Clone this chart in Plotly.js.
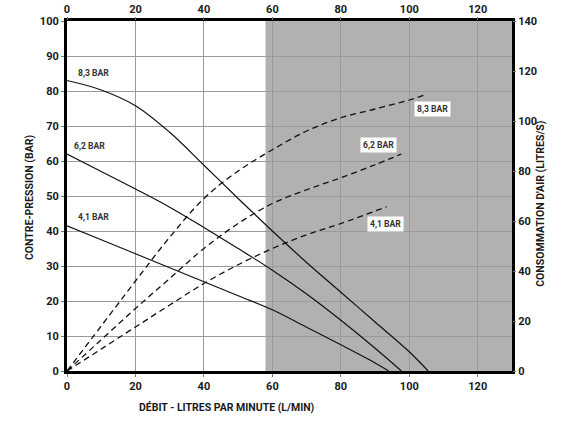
<!DOCTYPE html>
<html>
<head>
<meta charset="utf-8">
<script src="https://cdn.plot.ly/plotly-3.0.1.min.js"></script>
<style>html,body{margin:0;padding:0;background:#fff}#chart{width:564px;height:426px}</style>
</head>
<body>
<div id="chart"></div>
<script>
// Contre-pression (left axis, bar) vs débit (L/min)
const flow83 = [0, 10, 20, 30, 40, 50, 60, 70, 80, 90, 100, 105.5];
const press83 = [83, 80.3, 75.8, 68.2, 58.8, 49.3, 40, 31, 22.5, 14, 5.5, 0];
const flow62 = [0, 10, 20, 30, 40, 50, 60, 70, 80, 90, 97.7];
const press62 = [62, 57, 52, 46.8, 41, 35, 28.8, 22, 14.5, 6.5, 0];
const flow41 = [0, 10, 20, 30, 40, 50, 60, 70, 80, 90, 94];
const press41 = [41.5, 37.5, 33.5, 29.5, 25.5, 21.5, 17.5, 12.5, 7.5, 2.3, 0];

// Consommation d'air (right axis, litres/s) vs débit
const airFlow83 = [0, 10, 20, 30, 40, 50, 60, 70, 80, 90, 100, 104.7];
const air83 = [0, 18, 36, 53.5, 69, 80, 88.5, 96, 101.3, 104.8, 108.4, 110.5];
const airFlow62 = [0, 10, 20, 30, 40, 50, 60, 70, 80, 90, 97.7];
const air62 = [0, 12.5, 25, 37, 49, 59, 67, 72.5, 77.3, 82.5, 86.8];
const airFlow41 = [0, 10, 20, 30, 40, 50, 60, 70, 80, 93.4];
const air41 = [0, 8.8, 17.6, 26.4, 35, 42.5, 49, 54.5, 59, 65.7];

const seriesLabels = ['8,3 BAR', '6,2 BAR', '4,1 BAR'];
const xTicks = [0, 20, 40, 60, 80, 100, 120];
const yLeftTicks = [0, 10, 20, 30, 40, 50, 60, 70, 80, 90, 100];
const yRightTicks = [0, 20, 40, 60, 80, 100, 120, 140];
const shadeStart = 58;
const shadeEnd = 130;

const FONT = 'Roboto, "Open Sans", sans-serif';
const solid = {color: '#111', width: 1.2, shape: 'spline', smoothing: 1};
const dashed = {color: '#111', width: 1.3, dash: '6px,4px', shape: 'spline', smoothing: 1};

const traces = [
  {x: flow83, y: press83, mode: 'lines', line: solid, xaxis: 'x', yaxis: 'y', hoverinfo: 'skip'},
  {x: flow62, y: press62, mode: 'lines', line: solid, xaxis: 'x', yaxis: 'y', hoverinfo: 'skip'},
  {x: flow41, y: press41, mode: 'lines', line: solid, xaxis: 'x', yaxis: 'y', hoverinfo: 'skip'},
  {x: airFlow83, y: air83, mode: 'lines', line: dashed, xaxis: 'x', yaxis: 'y2', hoverinfo: 'skip'},
  {x: airFlow62, y: air62, mode: 'lines', line: dashed, xaxis: 'x', yaxis: 'y2', hoverinfo: 'skip'},
  {x: airFlow41, y: air41, mode: 'lines', line: dashed, xaxis: 'x', yaxis: 'y2', hoverinfo: 'skip'},
  {x: [0], y: [0], mode: 'markers', marker: {opacity: 0}, xaxis: 'x2', yaxis: 'y', hoverinfo: 'skip'}
];

const tickFont = {family: FONT, size: 11, color: '#1a1a1a', weight: 700};
const labelFont = {family: FONT, size: 8.6, color: '#333', weight: 700};
const titleFont = {family: FONT, size: 10.5, color: '#1a1a1a', weight: 700};

const layout = {
  width: 564, height: 426,
  margin: {l: 66.5, r: 52.3, t: 21, b: 55},
  paper_bgcolor: '#fff', plot_bgcolor: '#fff',
  showlegend: false,
  xaxis: {
    range: [0, 130], tickvals: xTicks, showgrid: true, gridcolor: '#979aa0', gridwidth: 1,
    zeroline: false, showline: true, linecolor: '#000', linewidth: 3, mirror: true,
    ticks: 'outside', ticklen: 3, tickcolor: '#777', tickfont: tickFont
  },
  xaxis2: {
    range: [0, 130], tickvals: xTicks, overlaying: 'x', side: 'top', anchor: 'y',
    showgrid: false, zeroline: false, showline: false,
    ticks: 'outside', ticklen: 3, tickcolor: '#777', tickfont: tickFont
  },
  yaxis: {
    range: [0, 100], tickvals: yLeftTicks, showgrid: true, gridcolor: '#979aa0', gridwidth: 1,
    zeroline: false, showline: true, linecolor: '#000', linewidth: 3, mirror: true,
    ticks: 'outside', ticklen: 3, tickcolor: '#777', tickfont: tickFont
  },
  yaxis2: {
    range: [0, 140], tickvals: yRightTicks, overlaying: 'y', side: 'right', anchor: 'x',
    showgrid: false, zeroline: false, showline: false,
    ticks: 'outside', ticklen: 3, tickcolor: '#777', tickfont: tickFont
  },
  shapes: [
    {type: 'rect', xref: 'x', yref: 'y', x0: shadeStart, x1: shadeEnd, y0: 0, y1: 100,
     fillcolor: '#b2b1b0', line: {width: 0}, layer: 'below'}
  ],
  annotations: [
    {x: 2.5, y: 85.2, xref: 'x', yref: 'y', text: seriesLabels[0], showarrow: false, xanchor: 'left', font: labelFont},
    {x: 1.5, y: 64.4, xref: 'x', yref: 'y', text: seriesLabels[1], showarrow: false, xanchor: 'left', font: labelFont},
    {x: 2.5, y: 43.9, xref: 'x', yref: 'y', text: seriesLabels[2], showarrow: false, xanchor: 'left', font: labelFont},
    {x: 106.7, y: 74.8, xref: 'x', yref: 'y', text: seriesLabels[0], showarrow: false, font: labelFont, bgcolor: '#fff', borderpad: 2},
    {x: 90.9, y: 64.5, xref: 'x', yref: 'y', text: seriesLabels[1], showarrow: false, font: labelFont, bgcolor: '#fff', borderpad: 2},
    {x: 92.9, y: 41.9, xref: 'x', yref: 'y', text: seriesLabels[2], showarrow: false, font: labelFont, bgcolor: '#fff', borderpad: 2},
    {x: -0.1045, y: 0.497, xref: 'paper', yref: 'paper', text: 'CONTRE-PRESSION (BAR)', textangle: -90, showarrow: false, font: titleFont},
    {x: 1.0815, y: 0.48, xref: 'paper', yref: 'paper', text: "CONSOMMATION D'AIR (LITRES/S)", textangle: -90, showarrow: false, font: titleFont},
    {x: 0.3605, y: -0.1286, xref: 'paper', yref: 'paper', text: 'DÉBIT - LITRES PAR MINUTE (L/MIN)', showarrow: false, font: titleFont}
  ]
};

Plotly.newPlot('chart', traces, layout, {staticPlot: true, displayModeBar: false});
</script>
</body>
</html>
